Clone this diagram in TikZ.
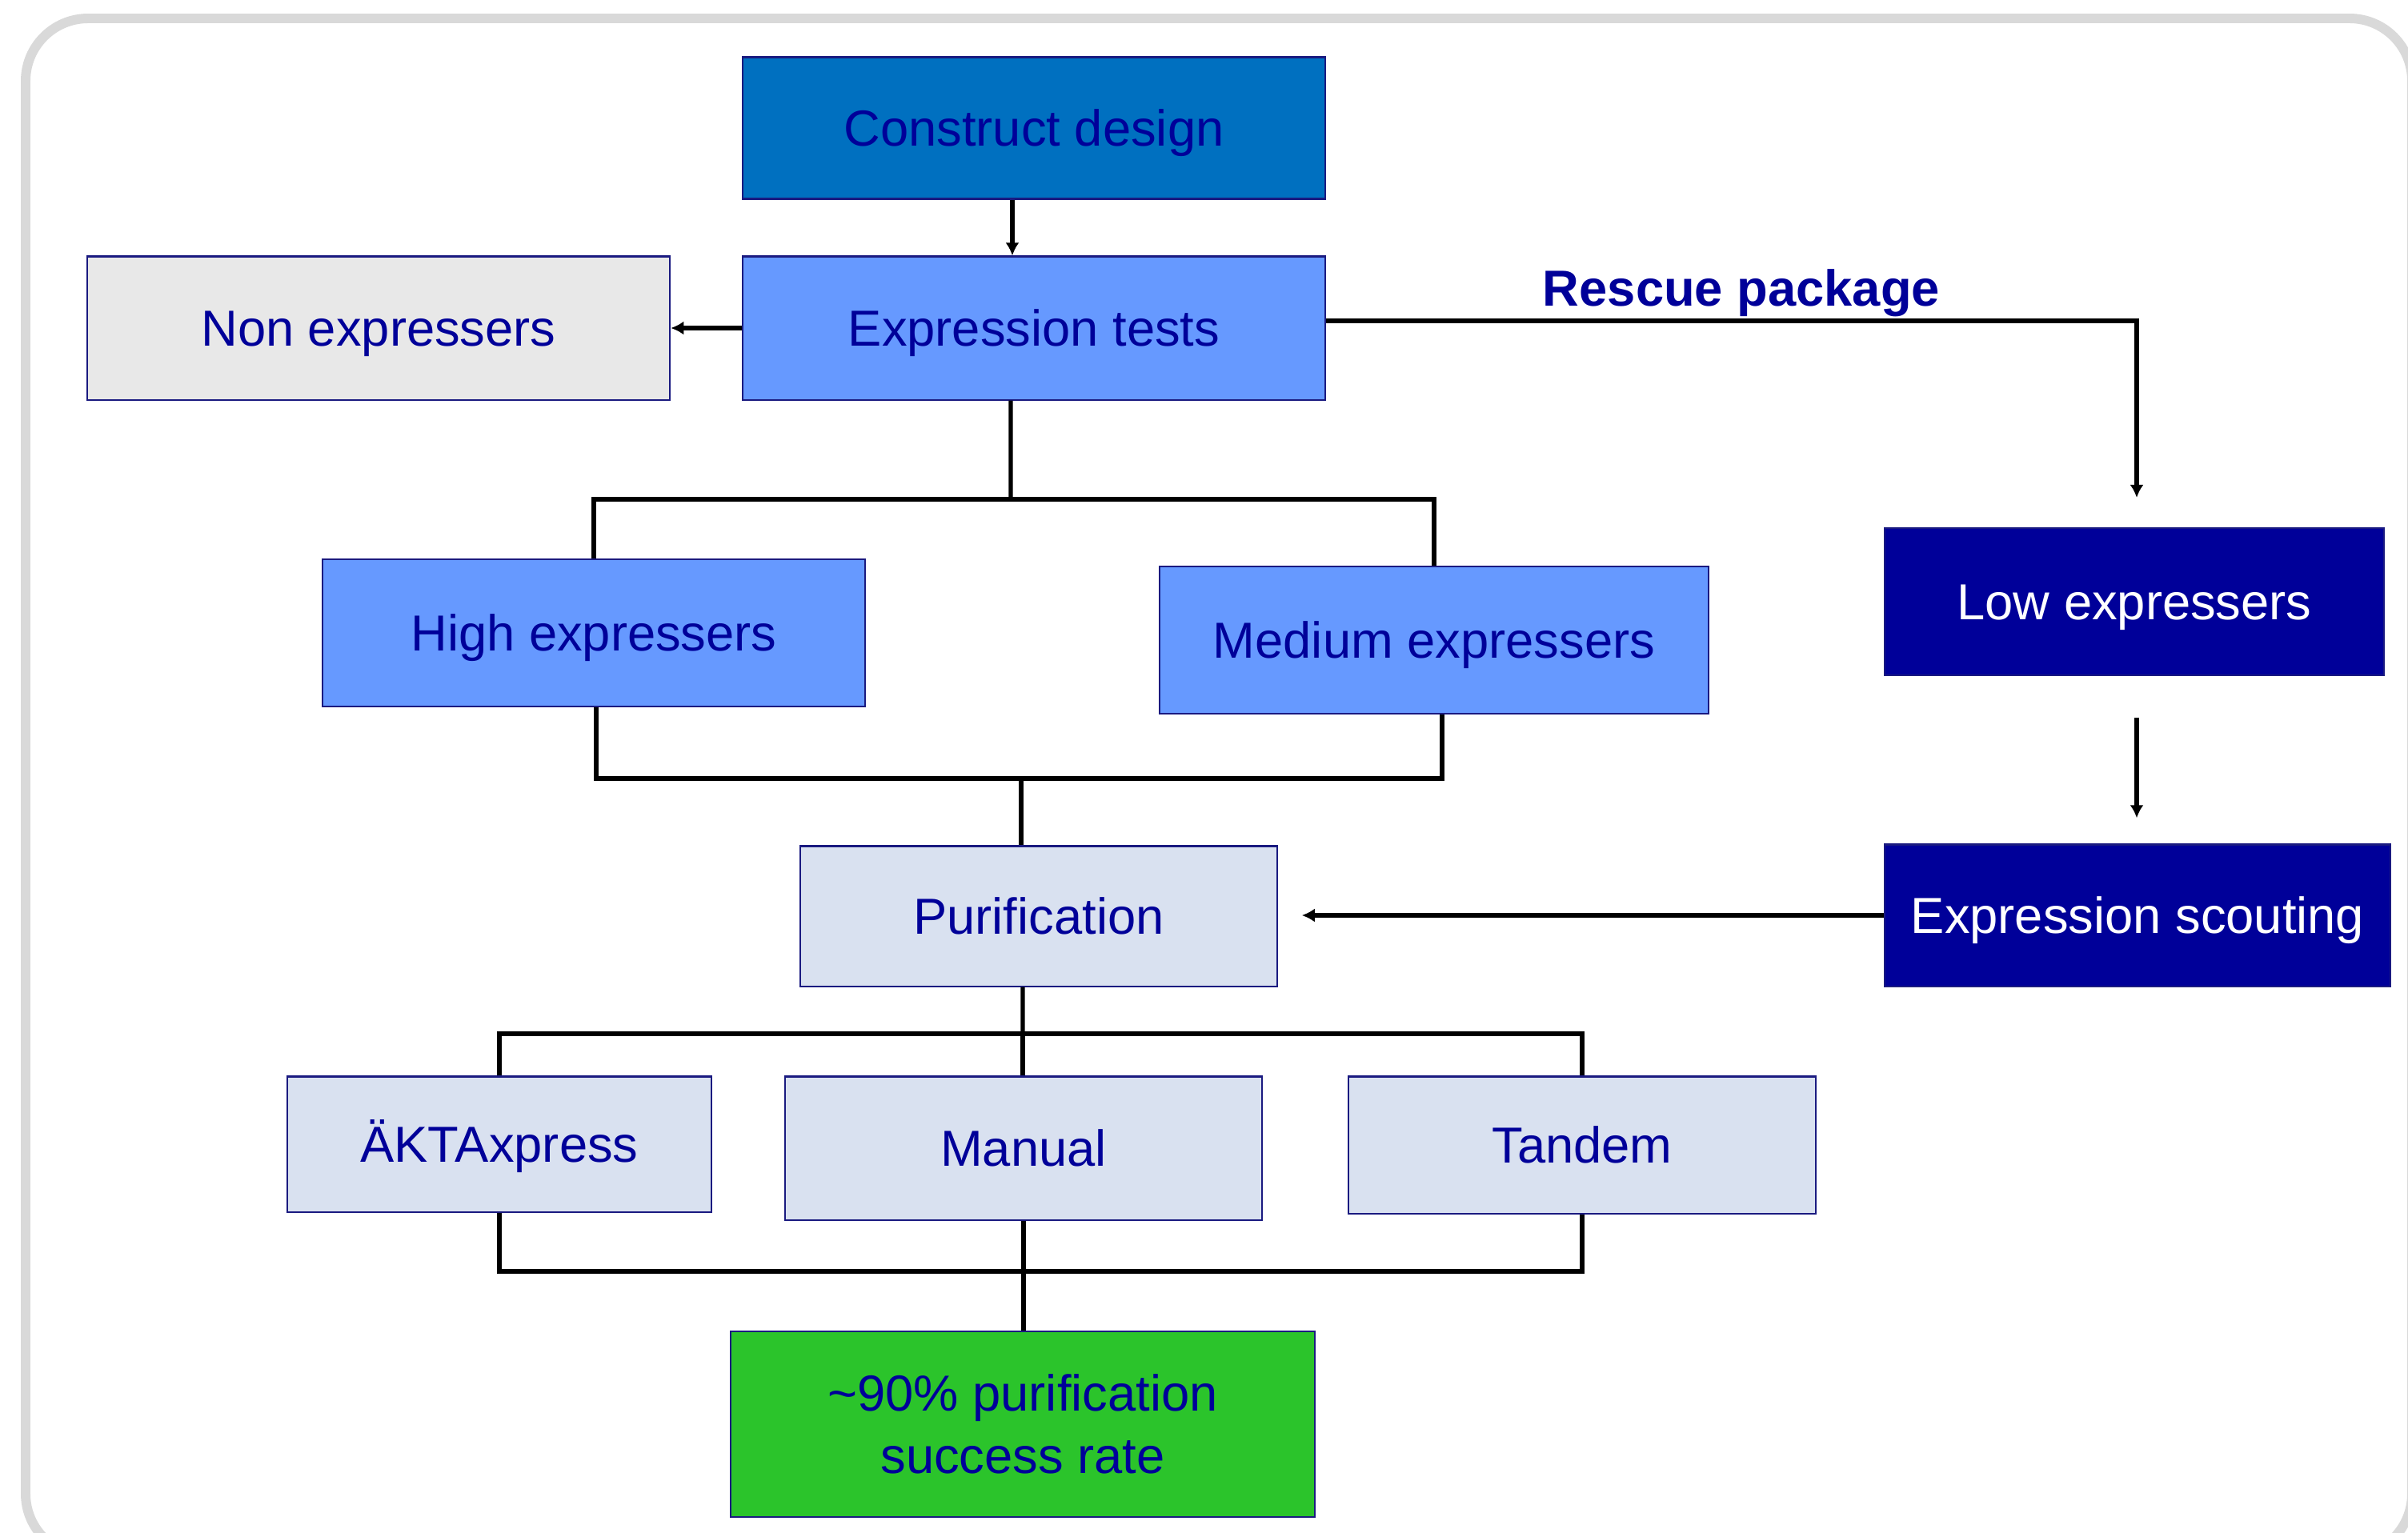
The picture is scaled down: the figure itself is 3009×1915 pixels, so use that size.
\documentclass[tikz,border=0pt]{standalone}
\usepackage{fontspec}
\setmainfont{Liberation Sans}
\usetikzlibrary{arrows.meta,positioning,calc}
\definecolor{navy}{HTML}{000099}
\definecolor{edge}{HTML}{1A1A80}
\definecolor{royal}{HTML}{0070C0}
\definecolor{sky}{HTML}{6699FF}
\definecolor{mist}{HTML}{E8E8E8}
\definecolor{pale}{HTML}{D9E1F0}
\definecolor{leaf}{HTML}{2BC42B}
\definecolor{frame}{HTML}{D9D9D9}

\begin{document}
\begin{tikzpicture}[x=0.01cm,y=-0.01cm,
  box/.style={draw=edge,line width=.6pt,text=navy,align=center,inner sep=0pt,text height=15pt,text depth=2pt,font=\fontsize{18}{22}\selectfont},
  link/.style={line width=1.5pt},
  arr/.style={link,-{Latex[length=1.6mm,width=1.7mm]}}]
  \clip (0,0) rectangle (3009,1915);
  \draw[frame,line width=3.4pt,rounded corners=.78cm] (32,23) rectangle (3014,1945);
  \node[box,fill=royal,minimum width=7.27cm,minimum height=1.77cm] (design) at (1292,160) {Construct design};
  \node[box,fill=sky,minimum width=7.27cm,minimum height=1.79cm] (tests) at (1292,410) {Expression tests};
  \node[box,fill=mist,minimum width=7.28cm,minimum height=1.79cm] (nonexp) at (473,410) {Non expressers};
  \node[box,fill=sky,minimum width=6.77cm,minimum height=1.84cm] (high) at (742,791) {High expressers};
  \node[box,fill=sky,minimum width=6.85cm,minimum height=1.84cm] (medium) at (1792,800) {Medium expressers};
  \node[box,fill=navy,text=white,minimum width=6.23cm,minimum height=1.84cm] (low) at (2667,752) {Low expressers};
  \node[box,fill=navy,text=white,minimum width=6.31cm,minimum height=1.77cm] (scout) at (2671,1144) {Expression scouting};
  \node[box,fill=pale,minimum width=5.95cm,minimum height=1.75cm] (purif) at (1298,1145) {Purification};
  \node[box,fill=pale,minimum width=5.30cm,minimum height=1.69cm] (akta) at (624,1430) {ÄKTAxpress};
  \node[box,fill=pale,minimum width=5.95cm,minimum height=1.79cm] (manual) at (1279,1435) {Manual};
  \node[box,fill=pale,minimum width=5.83cm,minimum height=1.71cm] (tandem) at (1977,1431) {Tandem};
  \node[box,fill=leaf,text height=,text depth=,minimum width=7.30cm,minimum height=2.32cm] (rate) at (1278,1780) {\textasciitilde90\% purification\\success rate};
  \node[text=navy,inner sep=0pt,font=\bfseries\fontsize{18}{22}\selectfont] (rescue) at (2176,366) {Rescue package};
  \coordinate (split1) at (1263,624);
  \coordinate (join1) at (1276,973);
  \coordinate (split2) at (1278,1292);
  \coordinate (join2) at (1278,1589);
  \coordinate (lowin) at (2670,622);
  \draw[arr] ([xshift=-.27cm]design.south) -- ([xshift=-.27cm]tests.north);
  \draw[arr] (tests) -- (nonexp);
  \draw[link] ([xshift=-.29cm]tests.south) -- (split1);
  \draw[link] (high.north) |- (split1) -| (medium.north);
  \draw[link] ([xshift=.03cm]high.south) |- (join1) -| ([xshift=.1cm]medium.south);
  \draw[link] (join1) -- (join1 |- purif.north);
  \draw[link] ([xshift=-.2cm]purif.south) -- (split2);
  \draw[link] (akta.north) |- (split2) -| (tandem.north);
  \draw[link] (split2) -- (split2 |- manual.north);
  \draw[link] (akta.south) |- (join2) -| (tandem.south);
  \draw[link] (manual.south) -- (manual.south |- rate.north);
  \draw[arr] ([yshift=.09cm]tests.east) -| (lowin);
  \draw[arr,shorten <=.52cm,shorten >=.32cm] (low.south -| lowin) -- (scout.north -| lowin);
  \draw[arr,shorten >=.3cm] (scout.west) -- (scout.west -| purif.east);
\end{tikzpicture}
\end{document}
